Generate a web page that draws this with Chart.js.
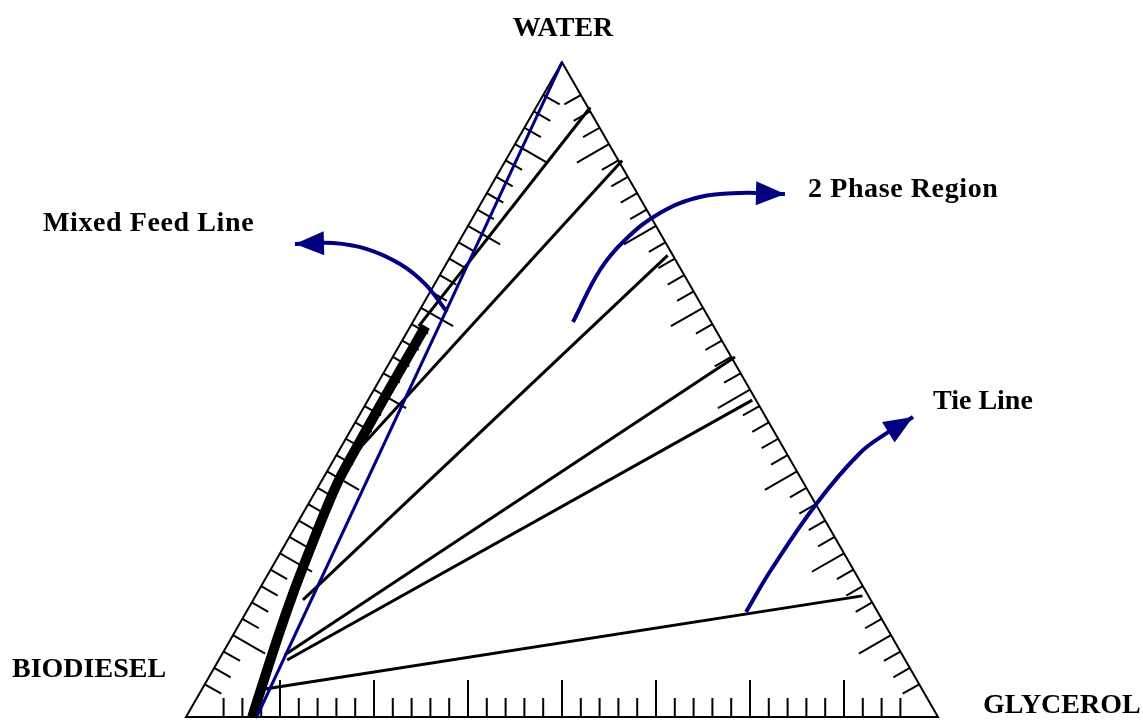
<!DOCTYPE html>
<html>
<head>
<meta charset="utf-8">
<title>Biodiesel / Glycerol / Water ternary diagram</title>
<script src="https://cdn.jsdelivr.net/npm/chart.js@4.4.1/dist/chart.umd.min.js"></script>
<style>
  html, body { margin: 0; padding: 0; background: #fff; }
  #box { width: 1143px; height: 723px; }
</style>
</head>
<body>
<div id="box"><canvas id="tern" width="1143" height="723"></canvas></div>
<script>
// corners of the diagram (bottom-left, bottom-right, top)
const vertexNames = ["BIODIESEL", "GLYCEROL", "WATER"];

// compositions are [glycerol, water] mass fractions; biodiesel = 1 - G - W
const feedG = [0.094, 0.0];
const feedW = [0.0, 1.0];

// biodiesel-rich side of the two phase envelope (heavy line)
const binodalG = [0.088, 0.077, 0.062, 0.048, 0.037, 0.027, 0.022, 0.021, 0.020, 0.020];
const binodalW = [0.000, 0.049, 0.118, 0.189, 0.255, 0.321, 0.366, 0.412, 0.489, 0.597];

// tie lines: left end (biodiesel phase) and right end (glycerol/water phase)
const tieLeftG  = [0.011, 0.027, 0.066, 0.084, 0.091, 0.074];
const tieLeftW  = [0.597, 0.415, 0.179, 0.095, 0.087, 0.041];
const tieRightG = [0.072, 0.155, 0.288, 0.455, 0.511, 0.807];
const tieRightW = [0.931, 0.850, 0.705, 0.550, 0.484, 0.185];

// axis tick marks: 40 divisions per side, long one every 5
const tickDivisions = 40;
const tickMajorEvery = 5;

// callout arrows, in plot (x, y) units
const calloutText = ["Mixed Feed Line", "2 Phase Region", "Tie Line"];
const mixArrowX = [0.3471, 0.3178, 0.2846, 0.2407, 0.1955, 0.1449];
const mixArrowY = [0.5357, 0.5728, 0.5992, 0.6190, 0.6270, 0.6257];
const phaseArrowX = [0.5146, 0.5505, 0.5838, 0.6303, 0.6835, 0.7367, 0.7965];
const phaseArrowY = [0.5225, 0.5913, 0.6310, 0.6667, 0.6878, 0.6931, 0.6918];
const tieArrowX = [0.7447, 0.7779, 0.8391, 0.8963, 0.9322, 0.9668];
const tieArrowY = [0.1389, 0.1944, 0.2831, 0.3492, 0.3757, 0.3968];

const NAVY = "#000080";
const H = Math.sqrt(3) / 2;
const toXY = (g, w) => ({ x: g + w / 2, y: w * H });
const pts = (G, W) => G.map((g, i) => toXY(g, W[i]));
const xy = (X, Y) => X.map((x, i) => ({ x: x, y: Y[i] }));

const datasets = [];
const line = (data, color, width, extra) =>
  Object.assign({ data, showLine: true, borderColor: color, borderWidth: width,
    pointRadius: 0, fill: false, tension: 0 }, extra || {});

// arrows on top
datasets.push(line(xy(mixArrowX, mixArrowY), NAVY, 4, { tension: 0.4, arrow: true }));
datasets.push(line(xy(phaseArrowX, phaseArrowY), NAVY, 4, { tension: 0.4, arrow: true }));
datasets.push(line(xy(tieArrowX, tieArrowY), NAVY, 4, { tension: 0.4, arrow: true }));
// mixed feed line
datasets.push(line(pts(feedG, feedW), NAVY, 3));
// heavy envelope
datasets.push(line(pts(binodalG, binodalW), "#000", 10, { tension: 0.2, borderJoinStyle: "round" }));
// tie lines
tieLeftG.forEach((g, i) => {
  datasets.push(line([toXY(g, tieLeftW[i]), toXY(tieRightG[i], tieRightW[i])], "#000", 3));
});

const triangleFrame = {
  id: "triangleFrame",
  beforeDatasetsDraw(chart) {
    const { ctx, scales: { x: sx, y: sy } } = chart;
    const P = (g, w) => { const c = toXY(g, w); return [sx.getPixelForValue(c.x), sy.getPixelForValue(c.y)]; };
    const corners = [P(0, 0), P(1, 0), P(0, 1)];
    const cx = (corners[0][0] + corners[1][0] + corners[2][0]) / 3;
    const cy = (corners[0][1] + corners[1][1] + corners[2][1]) / 3;
    ctx.save();
    ctx.strokeStyle = "#000";
    ctx.lineWidth = 2;
    ctx.beginPath();
    ctx.moveTo(corners[0][0], corners[0][1]);
    ctx.lineTo(corners[1][0], corners[1][1]);
    ctx.lineTo(corners[2][0], corners[2][1]);
    ctx.closePath();
    ctx.stroke();

    // ticks, perpendicular to each side, pointing inwards
    for (let s = 0; s < 3; s++) {
      const a = corners[s], b = corners[(s + 1) % 3];
      const dx = b[0] - a[0], dy = b[1] - a[1];
      const len = Math.hypot(dx, dy);
      let nx = -dy / len, ny = dx / len;
      const mx = (a[0] + b[0]) / 2, my = (a[1] + b[1]) / 2;
      if ((cx - mx) * nx + (cy - my) * ny < 0) { nx = -nx; ny = -ny; }
      ctx.beginPath();
      for (let k = 2; k <= tickDivisions - 2; k++) {
        const t = k / tickDivisions;
        const px = a[0] + dx * t, py = a[1] + dy * t;
        const L = k % tickMajorEvery === 0 ? 37 : 19;
        ctx.moveTo(px, py);
        ctx.lineTo(px + nx * L, py + ny * L);
      }
      ctx.stroke();
    }
    ctx.restore();
  },
  afterDatasetsDraw(chart) {
    const { ctx } = chart;
    ctx.save();
    ctx.fillStyle = NAVY;
    chart.data.datasets.forEach((ds, i) => {
      if (!ds.arrow) return;
      const els = chart.getDatasetMeta(i).data;
      const tip = els[els.length - 1];
      // direction from the last bezier control point, so the head follows the curve
      const cp = tip.cp1x !== undefined ? { x: tip.cp1x, y: tip.cp1y } : els[els.length - 2];
      const ux = tip.x - cp.x, uy = tip.y - cp.y;
      const l = Math.hypot(ux, uy);
      const ex = ux / l, ey = uy / l;
      const bx = tip.x - ex * 29, by = tip.y - ey * 29;
      ctx.beginPath();
      ctx.moveTo(tip.x, tip.y);
      ctx.lineTo(bx - ey * 12, by + ex * 12);
      ctx.lineTo(bx + ey * 12, by - ex * 12);
      ctx.closePath();
      ctx.fill();
    });

    // vertex and callout labels
    ctx.fillStyle = "#000";
    ctx.font = "bold 28px 'Liberation Serif', 'DejaVu Serif', serif";
    ctx.textBaseline = "alphabetic";
    ctx.textAlign = "left";
    ctx.fillText(vertexNames[0], 12, 677);
    ctx.fillText(vertexNames[1], 983, 713);
    ctx.textAlign = "center";
    ctx.fillText(vertexNames[2], 563, 36);
    ctx.textAlign = "left";
    ctx.letterSpacing = "0.6px";
    ctx.fillText(calloutText[0], 43, 231);
    ctx.fillText(calloutText[1], 808, 197);
    ctx.letterSpacing = "0px";
    ctx.fillText(calloutText[2], 933, 409);
    ctx.restore();
  }
};

new Chart(document.getElementById("tern"), {
  type: "scatter",
  data: { datasets },
  options: {
    responsive: false,
    animation: false,
    events: [],
    layout: { padding: 0 },
    plugins: { legend: { display: false }, tooltip: { enabled: false } },
    scales: {
      x: { type: "linear", display: false, min: -0.24734, max: 1.27261 },
      y: { type: "linear", display: false, min: -0.00794, max: 0.94841 }
    }
  },
  plugins: [triangleFrame]
});
</script>
</body>
</html>
